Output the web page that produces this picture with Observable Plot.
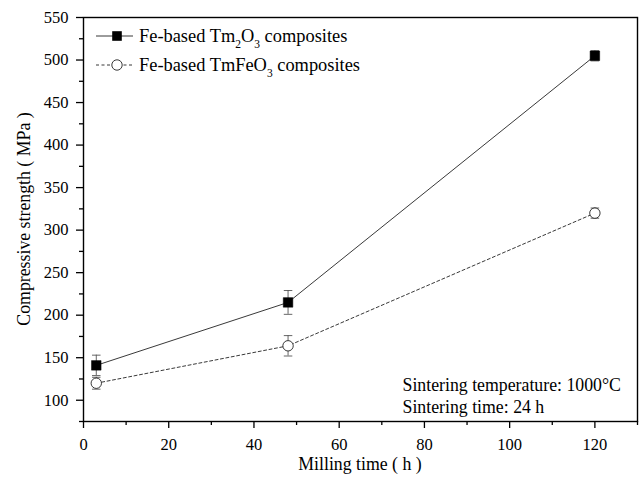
<!DOCTYPE html>
<html>
<head>
<meta charset="utf-8">
<script src="https://cdn.jsdelivr.net/npm/d3@7"></script>
<script src="https://cdn.jsdelivr.net/npm/@observablehq/plot@0.6"></script>
<style>
  html, body { margin: 0; padding: 0; background: white; }
</style>
</head>
<body>
<div id="chart"></div>
<script>
const millingTime = [3, 48, 120];
const tm2o3Strength = [141, 215, 505];
const tm2o3Error = [12, 14, 6];
const tmfeo3Strength = [120, 164, 320];
const tmfeo3Error = [7, 12, 6];
const xMajorTicks = [0, 20, 40, 60, 80, 100, 120];
const xMinorTicks = [10, 30, 50, 70, 90, 110, 130];
const yMajorTicks = [100, 150, 200, 250, 300, 350, 400, 450, 500, 550];
const yMinorTicks = [75, 125, 175, 225, 275, 325, 375, 425, 475, 525];
const seriesNames = ["Tm2O3", "TmFeO3"];

const rowsA = millingTime.map((x, i) => ({x, y: tm2o3Strength[i], e: tm2o3Error[i]}));
const rowsB = millingTime.map((x, i) => ({x, y: tmfeo3Strength[i], e: tmfeo3Error[i]}));
const allRows = rowsA.concat(rowsB);

const capHalf = 1.0;
const errColor = "#555";
const FONT = "'Liberation Serif', 'Times New Roman', serif";

const chart = Plot.plot({
  width: 641,
  height: 481,
  marginTop: 17,
  marginBottom: 60,
  marginLeft: 83,
  marginRight: 4,
  style: {fontFamily: FONT, fontSize: "16px", color: "black", background: "white"},
  x: {domain: [0, 130]},
  y: {domain: [75, 550]},
  marks: [
    Plot.axisX({ticks: xMajorTicks, tickSize: 7, tickPadding: 10, fontSize: 16.5, label: null, strokeWidth: 1.3}),
    Plot.axisX({ticks: xMinorTicks, tickSize: 4, tickFormat: () => "", label: null, strokeWidth: 1.3}),
    Plot.axisY({ticks: yMajorTicks, tickSize: 7, tickPadding: 8, fontSize: 16.5, label: null, strokeWidth: 1.3}),
    Plot.axisY({ticks: yMinorTicks, tickSize: 4, tickFormat: () => "", label: null, strokeWidth: 1.3}),
    Plot.frame({stroke: "black", strokeWidth: 1.4}),
    Plot.line(rowsA, {x: "x", y: "y", stroke: "#222", strokeWidth: 0.9}),
    Plot.line(rowsB, {x: "x", y: "y", stroke: "#222", strokeWidth: 0.9, strokeDasharray: "3,2.5"}),
    Plot.ruleX(allRows, {x: "x", y1: d => d.y - d.e, y2: d => d.y + d.e, stroke: errColor, strokeWidth: 0.9}),
    Plot.link(allRows, {x1: d => d.x - capHalf, x2: d => d.x + capHalf, y1: d => d.y + d.e, y2: d => d.y + d.e, stroke: errColor, strokeWidth: 0.9}),
    Plot.link(allRows, {x1: d => d.x - capHalf, x2: d => d.x + capHalf, y1: d => d.y - d.e, y2: d => d.y - d.e, stroke: errColor, strokeWidth: 0.9}),
    Plot.dot(rowsA, {x: "x", y: "y", symbol: "square", r: 5.4, fill: "black", stroke: "black", strokeWidth: 0.5}),
    Plot.dot(rowsB, {x: "x", y: "y", symbol: "circle", r: 5.2, fill: "white", stroke: "#222", strokeWidth: 0.9}),
    Plot.text(["Sintering temperature: 1000°C\nSintering time: 24 h"], {
      frameAnchor: "bottom-right", textAnchor: "start", lineAnchor: "bottom",
      dx: -235, dy: -9, lineHeight: 1.22, fontSize: 17.8, fill: "black"
    })
  ]
});

document.getElementById("chart").appendChild(chart);

const svg = d3.select(chart);
const W = 641, H = 481, mL = 83, mR = 4, mT = 17, mB = 60;

// Axis titles
svg.append("text")
  .attr("x", mL + (W - mL - mR) / 2).attr("y", 470)
  .attr("text-anchor", "middle").attr("font-family", FONT).attr("font-size", 17.8).attr("fill", "black")
  .text("Milling time ( h )");
svg.append("text")
  .attr("transform", `translate(30,${mT + (H - mT - mB) / 2}) rotate(-90)`)
  .attr("text-anchor", "middle").attr("font-family", FONT).attr("font-size", 17.8).attr("fill", "black")
  .text("Compressive strength ( MPa )");

// Legend (top-left, inside the frame)
const leg = svg.append("g").attr("font-family", FONT).attr("font-size", 18.4).attr("text-anchor", "start");
const legendItems = [
  {name: seriesNames[0], dash: null, symbol: "square", y: 36, base: "Fe-based Tm", sub1: "2", mid: "O", sub2: "3", tail: " composites"},
  {name: seriesNames[1], dash: "3,2.5", symbol: "circle", y: 65, base: "Fe-based TmFeO", sub1: "3", mid: "", sub2: "", tail: " composites"}
];
legendItems.forEach(it => {
  const g = leg.append("g");
  g.append("line").attr("x1", 96).attr("x2", 133).attr("y1", it.y).attr("y2", it.y)
    .attr("stroke", "#222").attr("stroke-width", 0.9).attr("stroke-dasharray", it.dash);
  if (it.symbol === "square") {
    g.append("rect").attr("x", 112.2).attr("y", it.y - 4.8).attr("width", 9.6).attr("height", 9.6).attr("fill", "black");
  } else {
    g.append("circle").attr("cx", 117).attr("cy", it.y).attr("r", 5.2).attr("fill", "white").attr("stroke", "#222").attr("stroke-width", 0.9);
  }
  const t = g.append("text").attr("x", 139).attr("y", it.y + 6).attr("fill", "black").attr("text-anchor", "start");
  t.append("tspan").text(it.base);
  t.append("tspan").attr("font-size", 11.5).attr("dy", 5.5).text(it.sub1);
  if (it.mid) {
    t.append("tspan").attr("dy", -5.5).text(it.mid);
    t.append("tspan").attr("font-size", 11.5).attr("dy", 5.5).text(it.sub2);
  }
  t.append("tspan").attr("dy", -5.5).text(it.tail);
});
</script>
</body>
</html>
